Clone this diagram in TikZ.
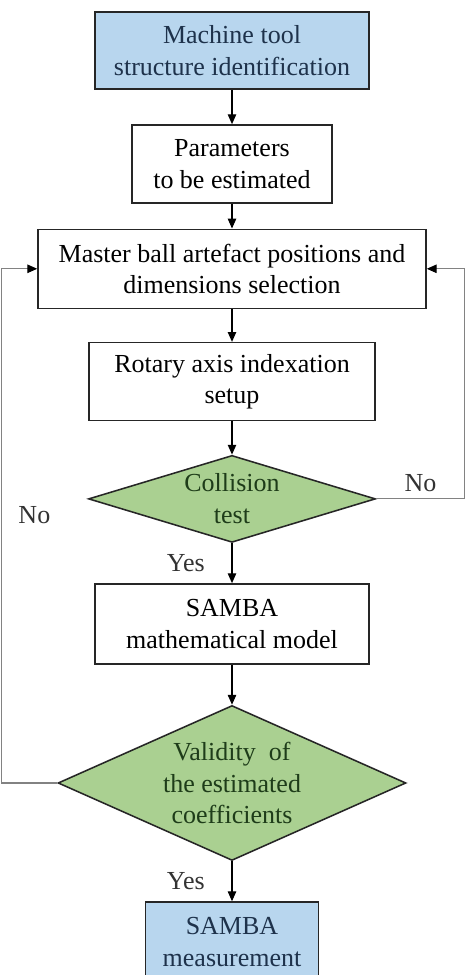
\documentclass[tikz,border=0pt]{standalone}
\usepackage{fontspec}
\setmainfont{Liberation Serif}
\usetikzlibrary{shapes.geometric,arrows.meta,positioning}
\definecolor{termblue}{RGB}{184,214,238}
\definecolor{testgreen}{RGB}{170,208,145}
\definecolor{navytext}{RGB}{30,50,75}
\definecolor{greentext}{RGB}{30,60,25}
\definecolor{loopgray}{RGB}{130,130,130}

\begin{document}
\begin{tikzpicture}[
  proc/.style={rectangle,draw=black!85,line width=1.1pt,fill=white,align=center,
               font=\fontsize{18.5}{22.5}\selectfont,inner sep=2pt},
  term/.style={proc,fill=termblue,text=navytext},
  test/.style={diamond,draw=black!85,line width=1.1pt,fill=testgreen,text=greentext,
               align=center,font=\fontsize{18.5}{22.5}\selectfont,inner sep=0pt},
  arr/.style={-{Triangle[length=7pt,width=6pt]},line width=0.8pt},
  back/.style={-{Triangle[length=7pt,width=6pt,color=black]},line width=0.8pt,draw=loopgray},
  lbl/.style={font=\fontsize{18.5}{22.5}\selectfont,text=black!80}
]
  \useasboundingbox (0,0) rectangle (11.7,-24.375);

  \node[term,minimum width=6.85cm,minimum height=1.925cm] (ident) at (5.8,-1.2625)
       {Machine tool\\structure identification};
  \node[proc,minimum width=5cm,minimum height=1.95cm,below=0.86cm of ident] (param)
       {Parameters\\to be estimated};
  \node[proc,minimum width=9.7cm,minimum height=1.975cm,below=0.62cm of param] (select)
       {Master ball artefact positions and\\dimensions selection};
  \node[proc,minimum width=7.15cm,minimum height=1.95cm,below=0.82cm of select] (rotary)
       {Rotary axis indexation\\setup};
  \node[test,aspect=3.3,minimum width=7.175cm,minimum height=2.175cm,below=0.83cm of rotary] (collide)
       {Collision\\test};
  \node[proc,minimum width=6.85cm,minimum height=2cm,below=1.0cm of collide] (model)
       {SAMBA\\mathematical model};
  \node[test,aspect=2.25,minimum width=8.7cm,minimum height=3.875cm,below=1.0cm of model] (valid)
       {Validity~ of\\the estimated\\coefficients};
  \node[term,minimum width=4.325cm,minimum height=2cm,below=1cm of valid] (meas)
       {SAMBA\\measurement};

  \coordinate[right=0.95cm of select.east] (rloop);
  \coordinate[left=0.9cm of select.west] (lloop);

  \draw[arr] (ident) -- (param);
  \draw[arr] (param) -- (select);
  \draw[arr] (select) -- (rotary);
  \draw[arr] (rotary) -- (collide);
  \draw[arr] (collide) -- node[lbl,left=0.55cm] {Yes} (model);
  \draw[arr] (model) -- (valid);
  \draw[arr] (valid) -- node[lbl,left=0.55cm] {Yes} (meas);

  % loops back to the selection step
  \draw[back] (collide.east) -| node[lbl,above=1pt,pos=0.25] {No} (rloop) -- (select.east);
  \draw[back] (valid.west) -| node[lbl,right=0.3cm,pos=0.76] {No} (lloop) -- (select.west);
\end{tikzpicture}
\end{document}
